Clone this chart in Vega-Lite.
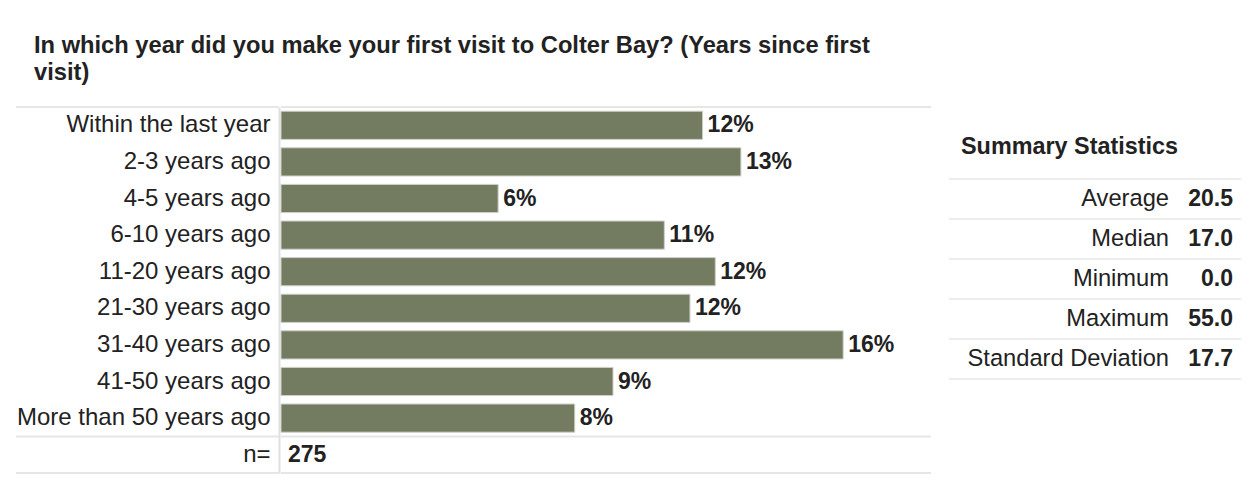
{
  "$schema": "https://vega.github.io/schema/vega-lite/v6.json",
  "background": "white",
  "padding": {"left": 15, "top": 34, "right": 0, "bottom": 0},
  "title": {
    "text": ["In which year did you make your first visit to Colter Bay? (Years since first", "visit)"],
    "anchor": "start",
    "frame": "group",
    "font": "Liberation Sans",
    "fontSize": 23.7,
    "fontWeight": "bold",
    "color": "#222222",
    "lineHeight": 27,
    "dx": 18,
    "offset": 21
  },
  "config": {
    "view": {"stroke": null},
    "text": {"font": "Liberation Sans", "fontSize": 24, "color": "#222222"}
  },
  "datasets": {
    "bars": [
      {"cat": "Within the last year", "pct": 0.12},
      {"cat": "2-3 years ago", "pct": 0.1309},
      {"cat": "4-5 years ago", "pct": 0.0618},
      {"cat": "6-10 years ago", "pct": 0.1091},
      {"cat": "11-20 years ago", "pct": 0.1236},
      {"cat": "21-30 years ago", "pct": 0.1164},
      {"cat": "31-40 years ago", "pct": 0.16},
      {"cat": "41-50 years ago", "pct": 0.0945},
      {"cat": "More than 50 years ago", "pct": 0.0836}
    ],
    "toplines": [{"cat": "Within the last year"}, {"cat": "n="}],
    "bottomline": [{"cat": "n="}],
    "nrow": [{"cat": "n=", "n": 275}],
    "stats": [
      {"stat": "Average", "value": 20.5},
      {"stat": "Median", "value": 17.0},
      {"stat": "Minimum", "value": 0.0},
      {"stat": "Maximum", "value": 55.0},
      {"stat": "Standard Deviation", "value": 17.7}
    ],
    "statsBottom": [{"stat": "Standard Deviation"}],
    "statsTitle": [{"stat": "Summary Statistics"}]
  },
  "spacing": 16,
  "hconcat": [
    {
      "spacing": 0,
      "hconcat": [
        {
          "width": 263,
          "height": 366,
          "layer": [
            {
              "data": {"name": "toplines"},
              "mark": {"type": "rule", "color": "#e6e6e6", "strokeWidth": 2},
              "encoding": {
                "y": {
                  "field": "cat", "type": "nominal", "bandPosition": 0,
                  "scale": {"domain": ["Within the last year", "2-3 years ago", "4-5 years ago", "6-10 years ago", "11-20 years ago", "21-30 years ago", "31-40 years ago", "41-50 years ago", "More than 50 years ago", "n="], "paddingInner": 0, "paddingOuter": 0},
                  "axis": {
                    "orient": "right", "title": null, "ticks": false, "grid": false,
                    "domainColor": "#e0e0e0", "domainWidth": 2,
                    "labelAlign": "right", "labelBaseline": "middle", "labelPadding": -9,
                    "labelFont": "Liberation Sans", "labelFontSize": 24, "labelColor": "#222222",
                    "labelLimit": 500
                  }
                }
              }
            },
            {
              "data": {"name": "bottomline"},
              "mark": {"type": "rule", "color": "#e6e6e6", "strokeWidth": 2},
              "encoding": {
                "y": {"field": "cat", "type": "nominal", "bandPosition": 1}
              }
            }
          ]
        },
        {
          "width": 650,
          "height": 366,
          "encoding": {
            "y": {
              "field": "cat", "type": "nominal",
              "scale": {"domain": ["Within the last year", "2-3 years ago", "4-5 years ago", "6-10 years ago", "11-20 years ago", "21-30 years ago", "31-40 years ago", "41-50 years ago", "More than 50 years ago", "n="], "paddingInner": 0, "paddingOuter": 0},
              "axis": null
            }
          },
          "layer": [
            {
              "data": {"name": "bars"},
              "mark": {"type": "bar", "height": {"band": 0.77}, "color": "#737c60", "stroke": "#cfd0c8", "strokeWidth": 1},
              "encoding": {
                "x": {"field": "pct", "type": "quantitative", "scale": {"domain": [0, 0.185], "nice": false, "zero": true}, "axis": null}
              }
            },
            {
              "data": {"name": "bars"},
              "mark": {"type": "text", "align": "left", "baseline": "middle", "dx": 5, "fontWeight": "bold", "fontSize": 23},
              "encoding": {
                "x": {"field": "pct", "type": "quantitative"},
                "text": {"field": "pct", "type": "quantitative", "format": ".0%"}
              }
            },
            {
              "data": {"name": "toplines"},
              "mark": {"type": "rule", "color": "#e6e6e6", "strokeWidth": 2},
              "encoding": {
                "y": {"field": "cat", "type": "nominal", "bandPosition": 0}
              }
            },
            {
              "data": {"name": "bottomline"},
              "mark": {"type": "rule", "color": "#e6e6e6", "strokeWidth": 2},
              "encoding": {
                "y": {"field": "cat", "type": "nominal", "bandPosition": 1}
              }
            },
            {
              "data": {"name": "nrow"},
              "mark": {"type": "text", "align": "left", "baseline": "middle", "dx": 7, "fontWeight": "bold", "fontSize": 23},
              "encoding": {
                "x": {"datum": 0, "type": "quantitative"},
                "text": {"field": "n", "type": "quantitative"}
              }
            }
          ]
        }
      ]
    },
    {
      "width": 292,
      "height": 304,
      "encoding": {
        "y": {
          "field": "stat", "type": "nominal",
          "scale": {"domain": ["Summary Statistics", "Average", "Median", "Minimum", "Maximum", "Standard Deviation"], "paddingInner": 0, "paddingOuter": 0.8},
          "axis": null
        }
      },
      "layer": [
        {
          "data": {"name": "stats"},
          "mark": {"type": "rule", "color": "#ececec", "strokeWidth": 2},
          "encoding": {
            "y": {"field": "stat", "type": "nominal", "bandPosition": 0}
          }
        },
        {
          "data": {"name": "statsBottom"},
          "mark": {"type": "rule", "color": "#ececec", "strokeWidth": 2},
          "encoding": {
            "y": {"field": "stat", "type": "nominal", "bandPosition": 1}
          }
        },
        {
          "data": {"name": "stats"},
          "mark": {"type": "text", "align": "right", "baseline": "middle", "fontSize": 23.7},
          "encoding": {
            "x": {"datum": "label", "type": "nominal", "scale": {"type": "point", "domain": ["label", "value"], "range": [220, 284], "padding": 0}, "axis": null},
            "text": {"field": "stat", "type": "nominal"}
          }
        },
        {
          "data": {"name": "stats"},
          "mark": {"type": "text", "align": "right", "baseline": "middle", "fontWeight": "bold", "fontSize": 23},
          "encoding": {
            "x": {"datum": "value", "type": "nominal"},
            "text": {"field": "value", "type": "quantitative", "format": ".1f"}
          }
        },
        {
          "data": {"name": "statsTitle"},
          "mark": {"type": "text", "align": "left", "baseline": "middle", "fontWeight": "bold", "fontSize": 23.4, "dx": -208, "dy": -12},
          "encoding": {
            "x": {"datum": "label", "type": "nominal"},
            "text": {"field": "stat", "type": "nominal"}
          }
        }
      ]
    }
  ]
}
